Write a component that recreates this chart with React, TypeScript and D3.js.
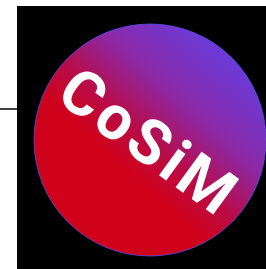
import * as d3 from 'd3'

// logo content
const label = 'CoSiM'
const stopOffsets = [0, 0.28, 0.5, 0.66, 1]
const stopColors = ['#6a3bd8', '#8a2aa8', '#b80c48', '#d0021b', '#d0021b']

const W = 266
const H = 269
const cx = 150
const cy = 140
const r = 116
const angle = 36
const gradAngle = 48

const App = () => {
  const g = (gradAngle * Math.PI) / 180
  // gradient from upper right towards lower left
  const dx = -Math.cos(g)
  const dy = Math.sin(g)
  const x1 = cx - dx * r
  const y1 = cy - dy * r
  const x2 = cx + dx * r
  const y2 = cy + dy * r
  const color = d3.scaleLinear<string>().domain(stopOffsets).range(stopColors)
  const stops = d3.range(0, 1.0001, 0.05)

  return (
    <div style={{ position: 'fixed', left: 0, top: 0 }}>
      <svg width={W} height={H} viewBox={`0 0 ${W} ${H}`} style={{ display: 'block' }}>
        <defs>
          <linearGradient id="g" gradientUnits="userSpaceOnUse" x1={x1} y1={y1} x2={x2} y2={y2}>
            {stops.map((s) => (
              <stop key={s} offset={s} stopColor={color(s)} />
            ))}
          </linearGradient>
        </defs>
        <rect x={0} y={0} width={W} height={H} fill="#fff" />
        <line x1={0} x2={20} y1={109} y2={109} stroke="#000" strokeWidth={1.5} />
        <rect x={17} y={6} width={W - 17} height={H - 6} fill="#000" />
        <circle cx={cx} cy={cy} r={r} fill="url(#g)" stroke="#5b4df0" strokeWidth={0.8} />
        <text
          transform={`translate(${cx},${cy + 1}) rotate(${angle})`}
          textAnchor="middle"
          dy="0.36em"
          fill="#fff"
          fontFamily="Roboto, sans-serif"
          fontWeight={700}
          fontSize={62}
          letterSpacing={4}
        >
          {label}
        </text>
      </svg>
    </div>
  )
}

export default App
